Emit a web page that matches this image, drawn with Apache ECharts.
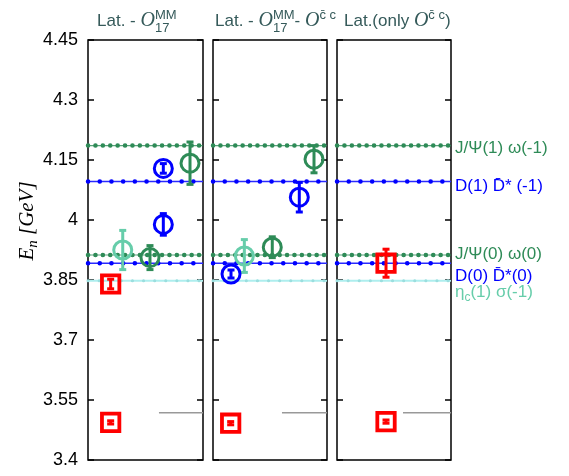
<!DOCTYPE html>
<html><head><meta charset="utf-8">
<script src="https://cdn.jsdelivr.net/npm/echarts@6/dist/echarts.min.js"></script>
<style>html,body{margin:0;padding:0;background:#fff}#c{width:569px;height:476px}</style>
</head><body><div id="c"></div>
<script>
// ---- data ----
const yTicks = [3.4, 3.55, 3.7, 3.85, 4, 4.15, 4.3, 4.45];
const levelNames = ['J/\u03A8(1) \u03C9(-1)', 'D(1) D\u0304* (-1)', 'J/\u03A8(0) \u03C9(0)', 'D(0) D\u0304*(0)', '\u03B7{s|c}(1) \u03C3(-1)'];
const levelValues = [4.186, 4.096, 3.9125, 3.892, 3.848];
const levelKinds = ['green', 'blue', 'green', 'blue', 'cyan'];
const thresholdValue = 3.518;
const thresholdStart = [0.617, 0.605, 0.579];
// points per panel: [x position in panel (0..1), energy, error]
const redPts = [[[0.197, 3.840, 0.012], [0.197, 3.494, 0.004]], [[0.155, 3.492, 0.004]], [[0.43, 3.892, 0.035], [0.43, 3.496, 0.004]]];
const bluePts = [[[0.655, 3.989, 0.027], [0.655, 4.129, 0.012]], [[0.158, 3.865, 0.010], [0.757, 4.057, 0.037]], []];
const greenPts = [[[0.539, 3.906, 0.030], [0.887, 4.142, 0.053]], [[0.520, 3.932, 0.026], [0.886, 4.152, 0.034]], []];
const aquaPts = [[[0.302, 3.925, 0.049]], [[0.275, 3.910, 0.041]], []];

// ---- styles ----
const SANS = '"Liberation Sans", Arial, sans-serif';
const C = {green: '#2e8b57', blue: '#0000ff', aqua: '#66cdaa', red: '#ff0000', cyan: '#aeeeee'};
const panels = [{left: 88, width: 115}, {left: 213, width: 114}, {left: 337, width: 114}];
const labelOffsets = [3, 5, -1, 13, 12];

const chart = echarts.init(document.getElementById('c'));
const grid = [], xAxis = [], yAxis = [], series = [];

function errItem(shape) {
  return function (params, api) {
    const x = api.value(0), y = api.value(1), e = api.value(2);
    const c = api.coord([x, y]), lo = api.coord([x, y - e]), hi = api.coord([x, y + e]);
    const col = api.visual('color');
    const cw = 3.5;
    const ch = [
      {type: 'line', shape: {x1: c[0], y1: lo[1], x2: c[0], y2: hi[1]}, style: {stroke: col, lineWidth: 3}},
      {type: 'line', shape: {x1: c[0] - cw, y1: lo[1], x2: c[0] + cw, y2: lo[1]}, style: {stroke: col, lineWidth: 3}},
      {type: 'line', shape: {x1: c[0] - cw, y1: hi[1], x2: c[0] + cw, y2: hi[1]}, style: {stroke: col, lineWidth: 3}}
    ];
    if (shape === 'circle') ch.push({type: 'circle', shape: {cx: c[0], cy: c[1], r: 9}, style: {fill: 'none', stroke: col, lineWidth: 3}});
    else ch.push({type: 'rect', shape: {x: c[0] - 8.7, y: c[1] - 8.7, width: 17.4, height: 17.4}, style: {fill: 'none', stroke: col, lineWidth: 3.8}});
    return {type: 'group', children: ch};
  };
}

panels.forEach((p, i) => {
  grid.push({left: p.left, width: p.width, top: 40, height: 420, show: true, borderColor: '#000', borderWidth: 1.5, backgroundColor: 'transparent'});
  xAxis.push({gridIndex: i, type: 'value', min: 0, max: 1, show: false});
  const ya = (pos, lab) => ({
    gridIndex: i, type: 'value', min: 3.4, max: 4.45, position: pos,
    axisLine: {show: false}, splitLine: {show: false},
    axisTick: {show: true, inside: true, length: 6, customValues: yTicks, lineStyle: {color: '#000', width: 1.5}},
    axisLabel: {show: lab, customValues: yTicks, fontSize: 18, fontFamily: SANS, color: '#000', margin: 10, formatter: v => String(v)}
  });
  yAxis.push(ya('left', i === 0), ya('right', false));
  const yi = 2 * i;
  levelValues.forEach((v, j) => {
    const k = levelKinds[j];
    const thin = k === 'green' ? {color: C.green, width: 1.2, opacity: 0.8} : k === 'blue' ? {color: '#2a2aff', width: 1.5} : {color: C.cyan, width: 2};
    const dots = k === 'green' ? {color: C.green, width: 4.5, type: [0.1, 7.3], cap: 'round'} : k === 'blue' ? {color: C.blue, width: 4.5, type: [0.1, 11.6], cap: 'round'} : {color: '#9adede', width: 3, type: [0.1, 11], cap: 'round'};
    const base = {type: 'line', xAxisIndex: i, yAxisIndex: yi, data: [[0, v], [1, v]], symbol: 'none', silent: true, animation: false, z: 2};
    const s1 = Object.assign({}, base, {lineStyle: thin});
    if (i === 2) {
      s1.endLabel = {show: true, distance: 4, offset: [0, labelOffsets[j]], formatter: levelNames[j], fontSize: 17, fontFamily: SANS,
        color: k === 'green' ? C.green : k === 'blue' ? C.blue : C.aqua,
        rich: {s: {fontSize: 12, fontFamily: SANS, color: C.aqua, padding: [9, 0, 0, 0]}}};
    }
    series.push(s1, Object.assign({}, base, {lineStyle: dots}));
  });
  series.push({type: 'line', xAxisIndex: i, yAxisIndex: yi, data: [[thresholdStart[i], thresholdValue], [1, thresholdValue]], symbol: 'none', silent: true, animation: false, lineStyle: {color: '#999', width: 1.5}, z: 2});
  [[aquaPts, C.aqua, 'circle'], [greenPts, C.green, 'circle'], [bluePts, C.blue, 'circle'], [redPts, C.red, 'square']].forEach(([arr, col, sh]) => {
    if (!arr[i].length) return;
    series.push({type: 'custom', xAxisIndex: i, yAxisIndex: yi, data: arr[i], itemStyle: {color: col}, renderItem: errItem(sh), silent: true, animation: false, z: 5, clip: false});
  });
});

// ---- titles (measured text pieces) ----
const meas = document.createElement('canvas').getContext('2d');
const wd = (t, f) => { meas.font = f; return meas.measureText(t).width; };
const TF = '17px ' + SANS, OF = 'italic 20px "Liberation Serif", serif', SF = '13px ' + SANS;
const TCOL = '#355a5a';
function buildTitle(x0, ym, parts) {
  const els = []; let x = x0;
  const txt = (t, f, xx, yy) => els.push({type: 'text', x: xx, y: yy, style: {text: t, font: f, fill: TCOL, verticalAlign: 'middle', align: 'left'}});
  parts.forEach(p => {
    if (p.stack) { txt(p.sup, SF, x, ym - 6); txt(p.sub, SF, x, ym + 7); x += Math.max(wd(p.sup, SF), wd(p.sub, SF)); }
    else if (p.sup) { txt(p.sup, SF, x, ym - 6); x += wd(p.sup, SF); }
    else { txt(p.t, p.f, x, ym); x += wd(p.t, p.f); }
  });
  return els;
}
const title1 = [{t: 'Lat. - ', f: TF}, {t: 'O', f: OF}, {stack: true, sup: 'MM', sub: '17'}];
const title2 = [{t: 'Lat. - ', f: TF}, {t: 'O', f: OF}, {stack: true, sup: 'MM', sub: '17'}, {t: '- ', f: TF}, {t: 'O', f: OF}, {sup: 'c\u0304 c'}];
const title3 = [{t: 'Lat.(only ', f: TF}, {t: 'O', f: OF}, {sup: 'c\u0304 c'}, {t: ')', f: TF}];
const graphic = [].concat(buildTitle(97, 21, title1), buildTitle(215, 21, title2), buildTitle(344, 21, title3));

// y axis name
const NF = 'italic 21px "Liberation Serif", serif', NSF = 'italic 15px "Liberation Serif", serif';
const wE = wd('E', NF), wn = wd('n', NSF), wG = wd(' [GeV]', NF);
const tot = wE + wn + wG;
graphic.push({type: 'group', x: 27, y: 221, rotation: Math.PI / 2, children: [
  {type: 'text', x: -tot / 2, y: 0, style: {text: 'E', font: NF, fill: '#000', verticalAlign: 'middle'}},
  {type: 'text', x: -tot / 2 + wE, y: 6, style: {text: 'n', font: NSF, fill: '#000', verticalAlign: 'middle'}},
  {type: 'text', x: -tot / 2 + wE + wn, y: 0, style: {text: ' [GeV]', font: NF, fill: '#000', verticalAlign: 'middle'}}
]});

chart.setOption({animation: false, grid, xAxis, yAxis, series, graphic});
</script></body></html>
